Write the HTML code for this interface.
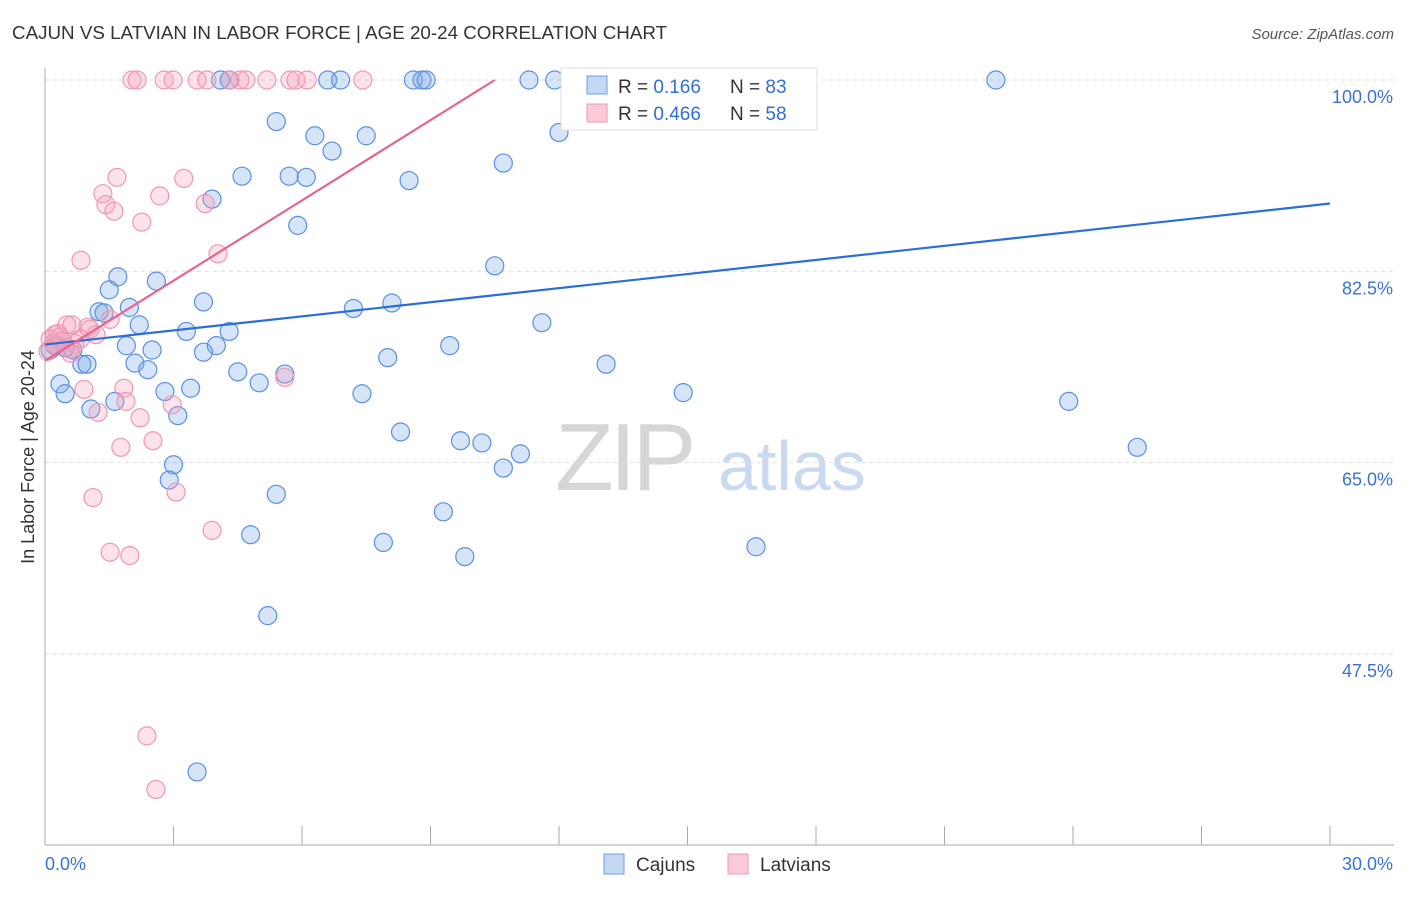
<!DOCTYPE html>
<html><head><meta charset="utf-8"><style>
body{margin:0;background:#fff;font-family:"Liberation Sans",sans-serif}
svg text{font-family:"Liberation Sans",sans-serif}
</style></head><body>
<svg width="1406" height="892" xmlns="http://www.w3.org/2000/svg">
<text x="12" y="39" font-size="18.8" fill="#333">CAJUN VS LATVIAN IN LABOR FORCE | AGE 20-24 CORRELATION CHART</text>
<text x="1394" y="39" font-size="15" fill="#555" text-anchor="end" font-style="italic">Source: ZipAtlas.com</text>
<g>
<text x="555" y="490" font-size="96" fill="#d6d6d6" font-family="Liberation Serif" letter-spacing="-4">ZIP</text>
<text x="718" y="490" font-size="70" fill="#c9daf0">atlas</text></g>
<g id="grid"></g><g id="axes"></g><g id="pts"></g><g id="trend"></g>
<text transform="translate(34,457) rotate(-90)" font-size="18" fill="#333" text-anchor="middle">In Labor Force | Age 20-24</text>
<g>
<rect x="561" y="68" width="256" height="62" fill="#fff" stroke="#ddd"/>
<rect x="587" y="76" width="20" height="18" fill="#c4d8f3" stroke="#6d9ee6"/>
<rect x="587" y="104" width="20" height="18" fill="#fbcbd9" stroke="#ee98b3"/>
<text x="618" y="93" font-size="19" fill="#333">R = <tspan fill="#2f6fd6">0.166</tspan></text>
<text x="730" y="93" font-size="19" fill="#333">N = <tspan fill="#2f6fd6">83</tspan></text>
<text x="618" y="120" font-size="19" fill="#333">R = <tspan fill="#2f6fd6">0.466</tspan></text>
<text x="730" y="120" font-size="19" fill="#333">N = <tspan fill="#2f6fd6">58</tspan></text></g>
<g>
<rect x="604" y="854" width="20" height="20" fill="#c4d8f3" stroke="#6d9ee6"/>
<text x="636" y="871" font-size="19" fill="#333">Cajuns</text>
<rect x="728" y="854" width="20" height="20" fill="#fbcbd9" stroke="#ee98b3"/>
<text x="760" y="871" font-size="19" fill="#333">Latvians</text></g>
</svg>
<script>
const yTicks=[100,82.5,65,47.5];
const yTickLabels=["100.0%","82.5%","65.0%","47.5%"];
const xTickLabels=["0.0%","30.0%"];
const blueX=[4.1,4.3,6.6,6.9,8.6,8.8,8.9,11.3,11.9,12.5,17.6,22.2,14.9,5.4,6.3,7.5,6.7,10.7,4.6,5.7,6.1,8.5,3.9,5.9,10.5,12.0,1.7,2.6,1.5,3.7,1.97,1.26,1.38,7.2,8.1,2.2,3.3,4.3,11.6,1.9,2.5,4.0,3.7,9.45,8.0,13.1,2.1,2.4,0.86,0.98,4.5,5.6,5.0,0.35,0.47,2.8,3.4,7.4,14.9,1.63,1.07,3.1,23.9,8.3,9.7,10.2,11.1,10.7,25.5,3.0,2.9,5.4,9.3,4.8,7.9,9.8,16.6,5.2,3.55,0.65,0.23,0.12,0.47];
const blueY=[100,100,100,100,100,100,100,100,100,100,100,100,100,96.2,94.9,94.9,93.5,92.4,91.2,91.2,91.1,90.8,89.1,86.7,83.0,95.2,82.0,81.6,80.8,79.7,79.2,78.8,78.7,79.1,79.6,77.6,77.0,77.0,77.8,75.7,75.3,75.7,75.1,75.7,74.6,74.0,74.1,73.5,74.0,74.0,73.3,73.1,72.3,72.2,71.3,71.5,71.8,71.3,71.4,70.6,69.9,69.3,70.6,67.8,67.0,66.8,65.8,64.5,66.4,64.8,63.4,62.1,60.5,58.4,57.7,56.4,57.3,51.0,36.7,75.3,75.7,75.3,75.5];
const pinkX=[2.03,2.15,2.78,2.99,3.55,3.78,4.32,4.55,4.69,5.18,5.72,5.86,6.12,7.42,14.4,1.68,1.35,2.68,3.24,1.42,1.61,3.74,2.26,0.84,4.04,0.51,0.63,1.0,1.05,1.52,1.19,0.23,0.12,0.35,0.7,0.82,0.58,0.07,5.6,0.91,1.84,1.89,2.97,1.24,2.22,1.77,2.52,1.12,3.06,3.9,1.52,1.98,2.38,2.59,0.3,0.4,0.6,0.2];
const pinkY=[100,100,100,100,100,100,100,100,100,100,100,100,100,100,100,91.1,89.6,89.4,91.0,88.6,88.0,88.7,87.0,83.5,84.1,77.6,77.6,77.4,77.2,78.1,76.7,76.7,76.3,76.5,75.9,76.3,75.4,75.2,72.8,71.7,71.8,70.6,70.3,69.6,69.1,66.4,67.0,61.8,62.3,58.8,56.8,56.5,40.0,35.1,76.8,76.1,75.0,75.9];
const blueTrend=[0,75.8,30,88.7];
const pinkTrend=[0,74.3,10.5,100];
const NS="http://www.w3.org/2000/svg";
const X=v=>45+v/30*1285, Y=v=>80+(100-v)/17.5*191.3;
function mk(t,a,p){const e=document.createElementNS(NS,t);for(const k in a)e.setAttribute(k,a[k]);document.getElementById(p).appendChild(e);return e;}
yTicks.forEach((t,i)=>{
 const l=mk('line',{x1:45,x2:1394,y1:Y(t),y2:Y(t),stroke:'#ddd','stroke-dasharray':'4 4'},'grid');
 
 
 const tx=mk('text',{x:1393,y:Y(t)+23,'font-size':18,fill:'#3a72d6','text-anchor':'end'},'axes');
 tx.textContent=yTickLabels[i];
 
 
});
const ya=mk('line',{x1:45,x2:45,y1:68,y2:845,stroke:'#aaa'},'axes');


const xa=mk('line',{x1:45,x2:1394,y1:845,y2:845,stroke:'#aaa'},'axes');


for(let i=1;i<=10;i++){const t=mk('line',{x1:X(i*3),x2:X(i*3),y1:826,y2:845,stroke:'#aaa'},'axes');
 
 }
[[0,45,'start'],[30,1393,'end']].forEach((a,i)=>{const t=mk('text',{x:a[1],y:870,'font-size':18,fill:'#3a72d6','text-anchor':a[2]},'axes');t.textContent=xTickLabels[i];
 
 });
blueX.forEach((v,i)=>{const c=mk('circle',{cx:X(v),cy:Y(blueY[i]),r:9,fill:'rgba(120,165,230,0.3)',stroke:'#5a8fe0','stroke-width':1.2},'pts');
 
 });
pinkX.forEach((v,i)=>{const c=mk('circle',{cx:X(v),cy:Y(pinkY[i]),r:9,fill:'rgba(245,160,185,0.3)',stroke:'#ee98b3','stroke-width':1.2},'pts');
 
 });
const bt=mk('line',{x1:X(blueTrend[0]),y1:Y(blueTrend[1]),x2:X(blueTrend[2]),y2:Y(blueTrend[3]),stroke:'#2a6fd6','stroke-width':2.2},'trend');


const pt=mk('line',{x1:X(pinkTrend[0]),y1:Y(pinkTrend[1]),x2:X(pinkTrend[2]),y2:Y(pinkTrend[3]),stroke:'#e8648f','stroke-width':2.2},'trend');


</script>
</body></html>
